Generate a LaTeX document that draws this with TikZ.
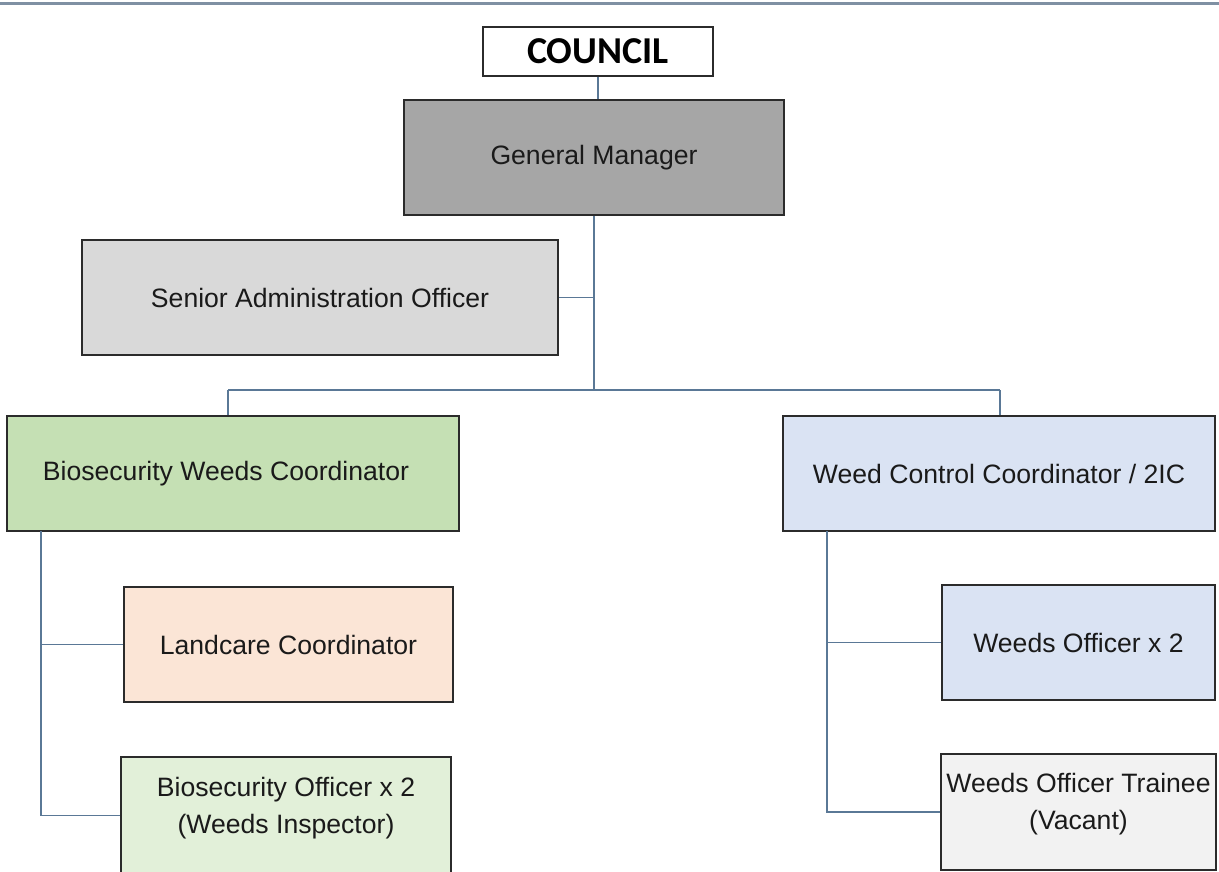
\documentclass[tikz,border=0pt]{standalone}
\usepackage{fontspec}
\setmainfont{Liberation Sans}
\newfontfamily\councilfont{Carlito}
\definecolor{topline}{HTML}{7F90A3}
\definecolor{connc}{HTML}{5A7896}
\definecolor{boxline}{HTML}{2B2B2B}
\definecolor{textc}{HTML}{1A1A1A}
\definecolor{gmfill}{HTML}{A6A6A6}
\definecolor{saofill}{HTML}{D9D9D9}
\definecolor{greenfill}{HTML}{C5E0B4}
\definecolor{bluefill}{HTML}{DAE3F3}
\definecolor{peachfill}{HTML}{FBE5D6}
\definecolor{lgreenfill}{HTML}{E2F0D9}
\definecolor{greyfill}{HTML}{F2F2F2}
\begin{document}
\begin{tikzpicture}[x=1pt,y=-1pt,
  box/.style={draw=boxline, line width=1.6pt, rectangle, inner sep=0pt,
    align=center, font=\fontsize{26.6pt}{37pt}\selectfont, text=textc},
  conn/.style={draw=connc, line width=1.5pt},
  rule/.style={draw=topline, line width=3pt}]
\clip (0,0) rectangle (1219,872);
\fill[white] (0,0) rectangle (1219,872);
\draw[rule] (0,4) -- (1219,4);

\node[box, fill=white, minimum width=230pt, minimum height=49pt,
  font=\councilfont\bfseries\fontsize{38pt}{40pt}\selectfont, text=black]
  (council) at (598,51.5) {COUNCIL};
\node[box, fill=gmfill, minimum width=380pt, minimum height=115pt]
  (gm) at (594,157.5) {General Manager};
\node[box, fill=saofill, minimum width=476pt, minimum height=115pt]
  (sao) at (320,297.5) {Senior Administration Officer};
\node[box, fill=greenfill, minimum width=452pt, minimum height=115pt]
  (bwc) at (233,473.5) {\hspace*{-14pt}Biosecurity Weeds Coordinator};
\node[box, fill=bluefill, minimum width=432pt, minimum height=115pt]
  (wcc) at (999,473.5) {Weed Control Coordinator / 2IC};
\node[box, fill=peachfill, minimum width=329pt, minimum height=115pt]
  (lc) at (288.5,644.5) {Landcare Coordinator};
\node[box, fill=lgreenfill, minimum width=330pt, minimum height=117pt]
  (bo) at (286,815.5) {\raisebox{8pt}[\height][\depth]{\begin{tabular}{@{}c@{}}Biosecurity Officer x 2\\(Weeds Inspector)\end{tabular}}};
\node[box, fill=bluefill, minimum width=273pt, minimum height=115pt]
  (wo) at (1078.5,642.5) {Weeds Officer x 2};
\node[box, fill=greyfill, minimum width=275pt, minimum height=116pt]
  (tr) at (1078.5,812) {\raisebox{8pt}[\height][\depth]{\begin{tabular}{@{}c@{}}Weeds Officer Trainee\\(Vacant)\end{tabular}}};

\coordinate (bus) at (594,390);
\coordinate (busl) at (228,390);
\coordinate (busr) at (1000,390);
\coordinate (lt) at (41,531);
\coordinate (rt) at (827,531);

\draw[conn] (council.south) -- (council.south |- gm.north);
\draw[conn] (gm.south) -- (bus);
\draw[conn] (sao.east) -- (bus |- sao.east);
\draw[conn] (busl) -- (busr);
\draw[conn] (busl) -- (busl |- bwc.north);
\draw[conn] (busr) -- (busr |- wcc.north);
\draw[conn] (lt) |- (lc.west);
\draw[conn] (lt) |- (bo.west);
\draw[conn] (rt) |- (wo.west);
\draw[conn] (rt) |- (tr.west);
\end{tikzpicture}
\end{document}
